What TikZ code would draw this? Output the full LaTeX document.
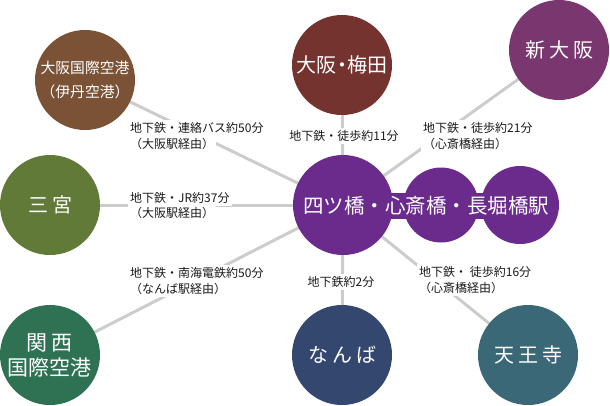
\documentclass[tikz,border=0pt]{standalone}
\usepackage{fontspec}
\setmainfont{Noto Sans CJK JP}
\usetikzlibrary{backgrounds}
\definecolor{itamic}{HTML}{7B5235}
\definecolor{sannoc}{HTML}{627A38}
\definecolor{kansaic}{HTML}{2E7153}
\definecolor{umedac}{HTML}{75332F}
\definecolor{shinc}{HTML}{7A366F}
\definecolor{hubcol}{HTML}{6A2B8C}
\definecolor{nambac}{HTML}{33476F}
\definecolor{tennoc}{HTML}{3A6877}
\definecolor{linegray}{HTML}{CCCCCC}
\definecolor{labeltext}{HTML}{1A1A1A}
\newcommand{\gapsp}{\hspace{4pt}}
\newcommand{\tightdot}{\hspace{-4.5pt}・\hspace{-4.5pt}}
\begin{document}
\begin{tikzpicture}[x=1pt,y=-1pt,
  stn/.style={circle, minimum size=100pt, inner sep=0pt, text=white,
    font=\fontsize{20}{24}\selectfont, align=center},
  link/.style={draw=linegray, line width=3pt},
  lbl/.style={anchor=west, fill=white, inner sep=2pt,
    font=\fontsize{12}{14}\selectfont, text=labeltext}]
\useasboundingbox (0,0) rectangle (610,405);
% hub
\node[fill=hubcol, minimum width=177pt, minimum height=26pt, inner sep=0pt] (band) at (431.5,205.5) {};
\node[stn, fill=hubcol] (hub) at (343,205) {};
\node[stn, fill=hubcol, minimum size=75pt] (hubb) at (441,205) {};
\node[stn, fill=hubcol, minimum size=78pt] (hubr) at (520,205) {};
\node[text=white, font=\fontsize{20.5}{24}\selectfont, inner sep=0pt] (hubname) at (426,206) {四ツ橋・心斎橋・長堀橋駅};
% stations
\node[stn, fill=itamic, font=\fontsize{14.8}{24}\selectfont] (itami) at (85,80) {大阪国際空港\\（伊丹空港）};
\node[stn, fill=sannoc] (sannomiya) at (50,205) {三\gapsp 宮};
\node[stn, fill=kansaic, font=\fontsize{21}{25}\selectfont] (kansai) at (50,355) {関\gapsp 西\\国際空港};
\node[stn, fill=umedac] (umeda) at (342,65) {大阪\tightdot 梅田};
\node[stn, fill=shinc] (shin) at (559,50) {新\gapsp 大\gapsp 阪};
\node[stn, fill=nambac] (namba) at (342,355) {な\gapsp ん\gapsp ば};
\node[stn, fill=tennoc] (tenno) at (528,355) {天\gapsp 王\gapsp 寺};
% links
\begin{scope}[on background layer]
\draw[link] (hub.center) -- (itami.center);
\draw[link] (hub.center) -- (sannomiya.center);
\draw[link] (hub.center) -- (kansai.center);
\draw[link] (hub.center) -- (umeda.center);
\draw[link] (hub.center) -- (shin.center);
\draw[link] (hub.center) -- (namba.center);
\draw[link] (hub.center) -- (tenno.center);
\end{scope}
% labels
\node[lbl] (l1a) at (128,128) {地下鉄・連絡バス約50分};
\node[lbl] (l1b) at (128,144) {（大阪駅経由）};
\node[lbl] (l2a) at (128,198) {地下鉄・JR約37分};
\node[lbl] (l2b) at (128,213) {（大阪駅経由）};
\node[lbl] (l3a) at (128,273) {地下鉄・南海電鉄約50分};
\node[lbl] (l3b) at (128,289) {（なんば駅経由）};
\node[lbl, anchor=center] (l4) at (344,136) {地下鉄・徒歩約11分};
\node[lbl] (l5a) at (421,128) {地下鉄・徒歩約21分};
\node[lbl] (l5b) at (421,144) {（心斎橋経由）};
\node[lbl, anchor=center] (l6) at (341,282) {地下鉄約2分};
\node[lbl] (l7a) at (417,272) {地下鉄・ 徒歩約16分};
\node[lbl] (l7b) at (417,288) {（心斎橋経由）};
\end{tikzpicture}
\end{document}
